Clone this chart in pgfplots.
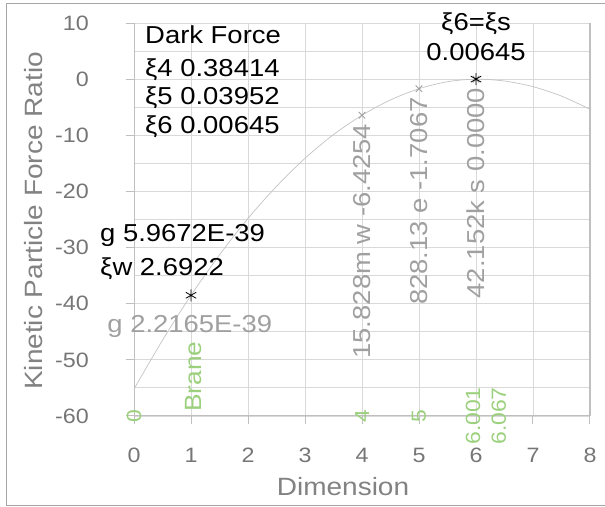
\documentclass[border=0pt]{standalone}
\usepackage{pgfplots}
\pgfplotsset{compat=1.18}
\usepackage{fontspec}
\setmainfont{Liberation Sans}[FakeStretch=1.12]
\definecolor{tickgray}{RGB}{118,118,118}
\definecolor{titlegray}{RGB}{130,130,130}
\definecolor{lblgray}{RGB}{160,160,160}
\definecolor{gridgray}{RGB}{217,217,217}
\definecolor{axgray}{RGB}{191,191,191}
\definecolor{curvegray}{RGB}{195,195,195}
\definecolor{lgreen}{RGB}{155,208,125}
\definecolor{bordergray}{RGB}{166,166,166}
\newcommand\fs[1]{\fontsize{#1}{#1}\selectfont}
\begin{document}
\begin{tikzpicture}[x=1pt,y=1pt]
\path[use as bounding box] (0,0) rectangle (605,506);
\draw[bordergray, line width=1pt] (6.5,1) rectangle (612,502.5);
\begin{axis}[
  at={(134pt,90pt)}, anchor=south west,
  scale only axis, width=456pt, height=393pt,
  xmin=0, xmax=8, ymin=-60, ymax=10,
  clip=false,
  axis x line*=bottom, axis y line*=left,
  axis line style={axgray, line width=1pt},
  xtick={0,1,2,3,4,5,6,7,8}, xticklabels={0,1,2,3,4,5,6,7,8},
  ytick={-60,-50,-40,-30,-20,-10,0,10},
  yticklabels={-60,-50,-40,-30,-20,-10,0,10},
  minor ytick={-55,-45,-35,-25,-15,-5,5},
  grid=both,
  major grid style={gridgray, line width=0.9pt},
  minor grid style={gridgray, line width=0.9pt},
  tick align=outside, major tick length=8pt, minor tick length=0pt,
  tick style={axgray, line width=1pt},
  xticklabel style={font=\fs{20.8}, text=tickgray, anchor=north, inner sep=0pt, yshift=-24pt},
  yticklabel style={font=\fs{20.8}, text=tickgray, anchor=east, inner sep=0pt, xshift=-37pt},
]
\draw[axgray, line width=1.5pt] (rel axis cs:1,0) -- (rel axis cs:1,1);
% curve
\addplot[curvegray, line width=0.7pt, smooth] coordinates {
(0,-55.2) (0.5,-46.5) (1,-38.5) (1.5,-31.3) (2,-24.8) (2.5,-19.1) (3,-14.1)
(3.5,-9.87) (4,-6.4254) (4.5,-3.70) (5,-1.7067) (5.5,-0.454) (6,0)
(6.5,-0.335) (7,-1.34) (7.5,-3.02) (8,-5.36)};
% x markers
\addplot[only marks, mark=x, mark size=4.6pt, lblgray, line width=1pt, mark options={solid, lblgray}] coordinates {(4,-6.4254) (5,-1.7067) (6,0)};
% asterisks
\addplot[only marks, mark=asterisk, mark size=6pt, black, line width=0.8pt] coordinates {(1,-38.5) (6,0)};
% black labels
\node[anchor=base west, inner sep=0pt, font=\fs{24.5}] at (axis cs:0.193,6.41) {Dark Force};
\node[anchor=base west, inner sep=0pt, font=\fs{24.5}] at (axis cs:0.193,0.53) {ξ4 0.38414};
\node[anchor=base west, inner sep=0pt, font=\fs{24.5}] at (axis cs:0.193,-4.45) {ξ5 0.03952};
\node[anchor=base west, inner sep=0pt, font=\fs{24.5}] at (axis cs:0.193,-9.62) {ξ6 0.00645};
\node[anchor=base, inner sep=0pt, font=\fs{24.5}] at (axis cs:6.0,8.73) {ξ6=ξs};
\node[anchor=base, inner sep=0pt, font=\fs{24.5}] at (axis cs:6.0,3.38) {0.00645};
\node[anchor=base west, inner sep=0pt, font=\fs{24.5}] at (axis cs:-0.596,-28.86) {g 5.9672E-39};
\node[anchor=base west, inner sep=0pt, font=\fs{24.5}] at (axis cs:-0.596,-34.9) {ξw 2.6922};
% gray labels
\node[anchor=base west, inner sep=0pt, font=\fs{24.5}, text=lblgray] at (axis cs:-0.47,-45.1) {g 2.2165E-39};
\node[rotate=90, anchor=east, inner sep=0pt, font=\fs{24.5}, text=lblgray] at (axis cs:4,-7.9) {15.828m w -6.4254};
\node[rotate=90, anchor=east, inner sep=0pt, font=\fs{24.5}, text=lblgray] at (axis cs:5,-3.2) {828.13 e -1.7067};
\node[rotate=90, anchor=east, inner sep=0pt, font=\fs{24.5}, text=lblgray] at (axis cs:6,-1.5) {42.152k s 0.0000};
% green labels
\node[rotate=90, anchor=center, inner sep=0pt, font=\fs{20.5}, text=lgreen] at (axis cs:0,-60) {0};
\node[rotate=90, anchor=west, inner sep=0pt, font=\fs{23.5}, text=lgreen] at (axis cs:1.04,-59.3) {Brane};
\node[rotate=90, anchor=center, inner sep=0pt, font=\fs{20.5}, text=lgreen] at (axis cs:4,-60) {4};
\node[rotate=90, anchor=center, inner sep=0pt, font=\fs{20.5}, text=lgreen] at (axis cs:5,-60) {5};
\node[rotate=90, anchor=center, inner sep=0pt, font=\fs{20.5}, text=lgreen] at (axis cs:5.95,-60) {6.001};
\node[rotate=90, anchor=center, inner sep=0pt, font=\fs{20.5}, text=lgreen] at (axis cs:6.40,-60) {6.067};
\end{axis}
\node[anchor=base, inner sep=0pt, font=\fs{25}, text=titlegray] at (343,10) {Dimension};
\node[rotate=90, anchor=base, inner sep=0pt, font=\fs{25}, text=titlegray] at (42,285) {Kinetic Particle Force Ratio};
\end{tikzpicture}
\end{document}
